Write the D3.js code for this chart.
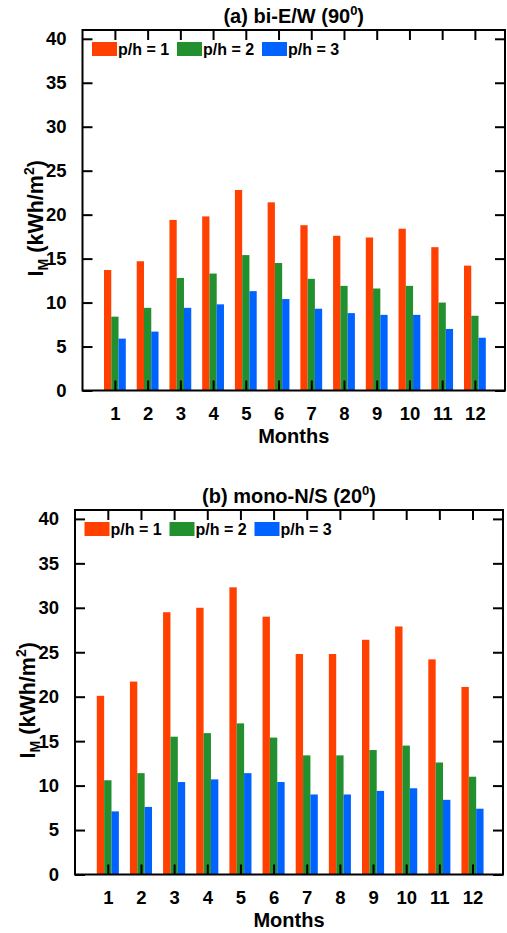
<!DOCTYPE html>
<html><head><meta charset="utf-8">
<script src="https://cdn.jsdelivr.net/npm/d3@7/dist/d3.min.js"></script>
<style>body{margin:0;background:#fff}svg{display:block;font-family:"Liberation Sans",Arial,sans-serif;font-weight:bold}</style>
</head><body>
<svg id="c" width="507" height="933"></svg>
<script>
const months = [1,2,3,4,5,6,7,8,9,10,11,12];
const seriesNames = ["p/h = 1","p/h = 2","p/h = 3"];
const colors = ["#ff4000","#22902e","#0062ff"];
const yTicks = [0,5,10,15,20,25,30,35,40];
// (a) bi-E/W (90°)
const aPh1 = [13.7,14.7,19.4,19.8,22.8,21.4,18.8,17.6,17.4,18.4,16.3,14.2];
const aPh2 = [8.4,9.4,12.8,13.3,15.4,14.5,12.7,11.9,11.6,11.9,10.0,8.5];
const aPh3 = [5.9,6.7,9.4,9.8,11.3,10.4,9.3,8.8,8.6,8.6,7.0,6.0];
// (b) mono-N/S (20°)
const bPh1 = [20.1,21.7,29.5,30.0,32.3,29.0,24.8,24.8,26.4,27.9,24.2,21.1];
const bPh2 = [10.6,11.4,15.5,15.9,17.0,15.4,13.4,13.4,14.0,14.5,12.6,11.0];
const bPh3 = [7.1,7.6,10.4,10.7,11.4,10.4,9.0,9.0,9.4,9.7,8.4,7.4];

const svg = d3.select("#c");

function panel(o){
  const g = svg.append("g");
  const x = d3.scaleLinear().domain([0.01,12.92]).range([o.left,o.right]);
  const y = d3.scaleLinear().domain([0,41]).range([o.bottom,o.top]);
  const unit = x(2)-x(1);
  const bw = unit*0.222;
  const data = [o.s1,o.s2,o.s3];
  data.forEach((s,k)=>{
    g.selectAll(null).data(s).enter().append("rect")
      .attr("x",(d,i)=>x(months[i]) + (k-1)*bw - bw/2)
      .attr("width",bw)
      .attr("y",d=>y(d))
      .attr("height",d=>y(0)-y(d))
      .attr("fill",colors[k]);
  });
  // frame
  g.append("rect").attr("x",o.left).attr("y",o.top).attr("width",o.right-o.left).attr("height",o.bottom-o.top)
    .attr("fill","none").attr("stroke","#000").attr("stroke-width",2);
  // axes with inward ticks
  const tl = 10;
  g.append("g").attr("transform",`translate(${o.left},0)`)
    .call(d3.axisLeft(y).tickValues(yTicks).tickSize(-tl).tickPadding(tl+6).tickFormat(d3.format("d")))
    .call(a=>{a.select(".domain").remove();a.selectAll("line").attr("stroke-width",2);a.selectAll("text").attr("font-size",18.5).attr("font-family",null).attr("font-weight","bold").attr("fill","#000");});
  g.append("g").attr("transform",`translate(${o.right},0)`)
    .call(d3.axisRight(y).tickValues(yTicks).tickSize(-tl).tickFormat(""))
    .call(a=>{a.select(".domain").remove();a.selectAll("line").attr("stroke-width",2);});
  g.append("g").attr("transform",`translate(0,${o.bottom})`)
    .call(d3.axisBottom(x).tickValues(months).tickSize(-tl).tickPadding(tl+6).tickFormat(d3.format("d")))
    .call(a=>{a.select(".domain").remove();a.selectAll("line").attr("stroke-width",2);a.selectAll("text").attr("font-size",18.5).attr("font-family",null).attr("font-weight","bold").attr("fill","#000");});
  g.append("g").attr("transform",`translate(0,${o.top})`)
    .call(d3.axisTop(x).tickValues(months).tickSize(-tl).tickFormat(""))
    .call(a=>{a.select(".domain").remove();a.selectAll("line").attr("stroke-width",2);});
  // title
  const cx = (o.left+o.right)/2;
  const t = g.append("text").attr("x",cx).attr("y",o.top-7).attr("text-anchor","middle").attr("font-size",20);
  t.append("tspan").text(o.title);
  t.append("tspan").attr("font-size",13).attr("dy",-8).text("0");
  t.append("tspan").attr("dy",8).text(")");
  // x label
  g.append("text").attr("x",cx).attr("y",o.bottom+52).attr("text-anchor","middle").attr("font-size",20).text("Months");
  // y label
  const yc = (o.top+o.bottom)/2 + 8;
  const yl = g.append("text").attr("transform",`translate(${o.left-40},${yc}) rotate(-90)`).attr("text-anchor","middle").attr("font-size",21.5);
  yl.append("tspan").text("I");
  yl.append("tspan").attr("font-size",14).attr("dy",5).text("M");
  yl.append("tspan").attr("dy",-5).attr("dx",6).text("(kWh/m");
  yl.append("tspan").attr("font-size",14).attr("dy",-9).text("2");
  yl.append("tspan").attr("dy",9).text(")");
  // legend
  seriesNames.forEach((n,k)=>{
    const lx = o.left + 9.5 + k*85;
    g.append("rect").attr("x",lx).attr("y",o.top+12).attr("width",25).attr("height",14).attr("fill",colors[k]);
    g.append("text").attr("x",lx+26).attr("y",o.top+25).attr("font-size",16).text(n);
  });
}

panel({left:82.5,right:505,top:30,bottom:390.5,s1:aPh1,s2:aPh2,s3:aPh3,title:"(a) bi-E/W (90"});
panel({left:75,right:503,top:510,bottom:874.5,s1:bPh1,s2:bPh2,s3:bPh3,title:"(b) mono-N/S (20"});
</script>
</body></html>
